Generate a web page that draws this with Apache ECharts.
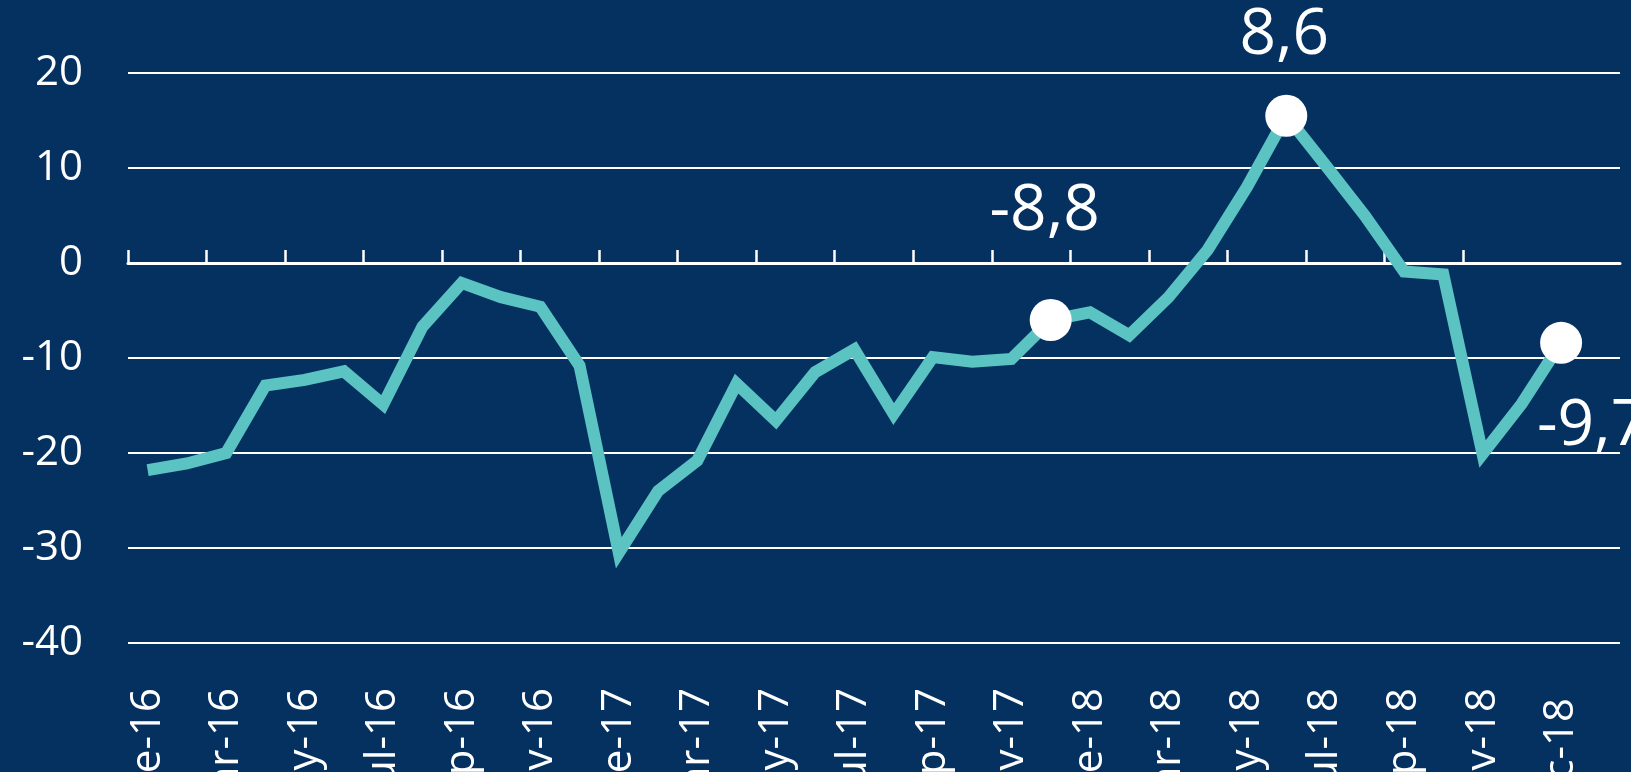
<!DOCTYPE html>
<html>
<head>
<meta charset="utf-8">
<title>Indicador mensual</title>
<script src="https://cdn.jsdelivr.net/npm/echarts@6/dist/echarts.min.js"></script>
<style>
  html, body { margin: 0; padding: 0; background: #053160; }
  #main { width: 1631px; height: 772px; }
</style>
</head>
<body>
<div id="main"></div>
<script>
// etiquetas del eje x (una por punto, vacias las que no se rotulan)
var tickLabels = ['ene-16', '', 'mar-16', '', 'may-16', '', 'jul-16', '', 'sep-16', '', 'nov-16', '',
  'ene-17', '', 'mar-17', '', 'may-17', '', 'jul-17', '', 'sep-17', '', 'nov-17', '',
  'ene-18', '', 'mar-18', '', 'may-18', '', 'jul-18', '', 'sep-18', '', 'nov-18', '', 'dic-18'];

var values = [-21.8, -21.1, -20.0, -12.9, -12.3, -11.4, -14.9, -6.7, -2.1, -3.6, -4.6, -10.8,
  -30.5, -24.0, -20.8, -12.7, -16.6, -11.5, -9.1, -15.9, -9.9, -10.4, -10.1, -6.0,
  -5.2, -7.6, -3.6, 1.4, 8.0, 15.5, 10.3, 5.0, -0.9, -1.2, -20.1, -14.8, -8.4];

// puntos destacados y su texto
var markIdx = [23, 29, 36];
var markText = ['-8,8', '8,6', '-9,7'];

var FONT = '"Open Sans", "Noto Sans", sans-serif';

var chart = echarts.init(document.getElementById('main'));

var labelOffsets = [[-6, -108], [-2, -80], [31, 84]];
var markData = markIdx.map(function (i, k) {
  return {
    value: [i, values[i]],
    label: { formatter: markText[k], offset: labelOffsets[k] }
  };
});

var tickSpots = [];
for (var t = 0; t <= 34; t += 2) tickSpots.push(t);

chart.setOption({
  backgroundColor: '#053160',
  animation: false,
  grid: { left: 128, right: 11, top: 73, bottom: 129, containLabel: false, outerBoundsMode: 'none' },
  xAxis: [{
    type: 'category',
    data: tickLabels,
    max: 37,
    boundaryGap: true,
    position: 'bottom',
    axisLine: { show: false, onZero: false },
    axisTick: { show: false },
    splitLine: { show: false },
    axisLabel: {
      interval: 0,
      rotate: 90,
      margin: 45,
      color: '#ffffff',
      fontSize: 42,
      fontFamily: FONT,
      formatter: function (v, i) {
        return i === 36 ? '{d|' + v + '}' : v;
      },
      rich: {
        d: { color: '#ffffff', fontSize: 42, fontFamily: FONT, padding: [0, 10, 0, 0] }
      }
    }
  }, {
    type: 'value',
    min: 0,
    max: 38,
    interval: 2,
    axisLine: { show: true, onZero: true, lineStyle: { color: '#ffffff', width: 3 } },
    axisTick: { show: true, length: 13, customValues: tickSpots, lineStyle: { color: '#ffffff', width: 2.5 } },
    axisLabel: { show: false },
    splitLine: { show: false }
  }],
  yAxis: {
    type: 'value',
    min: -40,
    max: 20,
    interval: 10,
    axisLine: { show: false },
    axisTick: { show: false },
    axisLabel: { color: '#ffffff', fontSize: 42, fontFamily: FONT, margin: 45 },
    splitLine: { lineStyle: { color: '#ffffff', width: 2 } }
  },
  series: [{
    type: 'line',
    xAxisIndex: 0,
    data: values,
    symbol: 'none',
    lineStyle: { color: '#5bc4c2', width: 12, join: 'miter', cap: 'butt' },
    z: 3
  }, {
    type: 'scatter',
    xAxisIndex: 0,
    data: markData,
    symbol: 'circle',
    symbolSize: 42,
    itemStyle: { color: '#ffffff', opacity: 1 },
    label: {
      show: true,
      position: 'inside',
      color: '#ffffff',
      fontSize: 64,
      fontFamily: FONT
    },
    z: 5
  }]
});
</script>
</body>
</html>
